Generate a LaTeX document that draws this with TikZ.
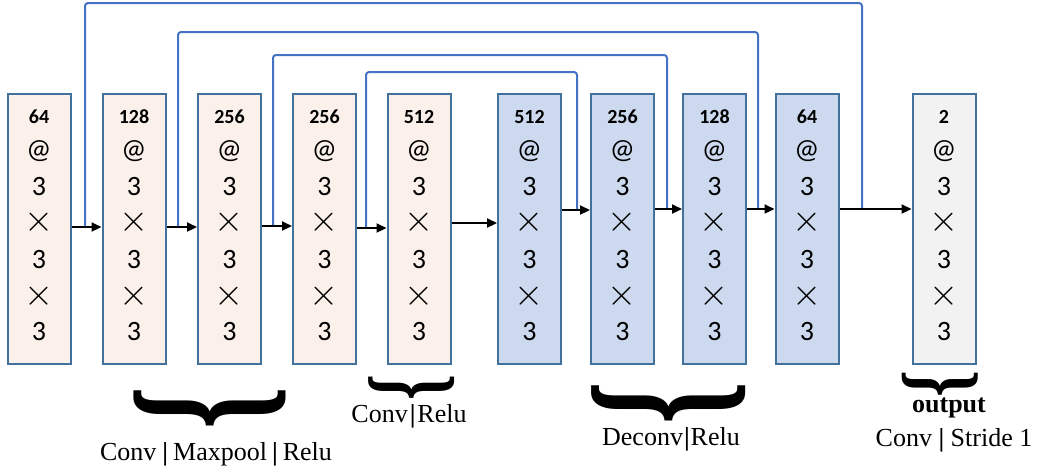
\documentclass[tikz,border=0pt]{standalone}
\usepackage{fontspec}
\usepackage{graphicx}
\setmainfont{Liberation Serif}
\newfontfamily\calfont{Carlito}
\usetikzlibrary{arrows.meta}
\definecolor{skipc}{HTML}{4472C4}
\definecolor{bord}{HTML}{41719C}
\definecolor{enc}{HTML}{FBF1EA}
\definecolor{dec}{HTML}{CCD9EE}
\definecolor{outc}{HTML}{F2F2F2}
\tikzset{
  layer/.style={draw=bord, line width=2pt, minimum width=63pt, minimum height=270pt, inner sep=0pt},
  numtxt/.style={font=\calfont\bfseries\fontsize{20}{20}\selectfont, inner sep=0pt},
  symtxt/.style={font=\calfont\fontsize{28}{28}\selectfont, inner sep=0pt},
  arr/.style={line width=2.2pt, -{Triangle[length=10pt,width=9pt]}},
  skipl/.style={draw=skipc, line width=2pt, rounded corners=3pt},
  lbl/.style={font=\fontsize{26}{26}\selectfont, inner sep=0pt},
  bracenode/.style={inner sep=0pt, anchor=north}
}
\newcommand\crosssym{\fontsize{20}{20}\selectfont\scalebox{1.8}{$\times$}}
\newcommand\layerbox[4]{%
  \node[layer, fill=#3] (#1) at (#2,229) {};
  \node[numtxt] (#1-n) at (#2,117) {#4};
  \node[symtxt] (#1-a) at (#2,151) {@};
  \node[symtxt] (#1-b) at (#2,187) {3};
  \node[symtxt] (#1-c) at (#2,222) {\crosssym};
  \node[symtxt] (#1-d) at (#2,260) {3};
  \node[symtxt] (#1-e) at (#2,296) {\crosssym};
  \node[symtxt] (#1-f) at (#2,332) {3};
}
\newcommand\bigbrace[3]{\resizebox*{#1}{#2}{\rotatebox{-90}{\fontsize{#3}{#3}\selectfont\bfseries\}}}}
\newcommand\vbar{\textbf{|}}
\begin{document}
\begin{tikzpicture}[x=1pt,y=-1pt]
\useasboundingbox (0,0) rectangle (1041,475);
% layers
\layerbox{b1}{39}{enc}{64}
\layerbox{b2}{134}{enc}{128}
\layerbox{b3}{229.5}{enc}{256}
\layerbox{b4}{324.5}{enc}{256}
\layerbox{b5}{419}{enc}{512}
\layerbox{b6}{529.5}{dec}{512}
\layerbox{b7}{622.5}{dec}{256}
\layerbox{b8}{714.5}{dec}{128}
\layerbox{b9}{807}{dec}{64}
\layerbox{b10}{944}{outc}{2}
% skip connection coordinates
\coordinate (s1) at (85,227);  \coordinate (t1) at (862,3);  \coordinate (e1) at (862,209);
\coordinate (s2) at (178,227); \coordinate (t2) at (758,32); \coordinate (e2) at (758,209);
\coordinate (s3) at (273,226); \coordinate (t3) at (667,55); \coordinate (e3) at (667,209);
\coordinate (s4) at (366,228); \coordinate (t4) at (577,72); \coordinate (e4) at (577,210);
\draw[skipl] (s1) |- (t1) -- (e1);
\draw[skipl] (s2) |- (t2) -- (e2);
\draw[skipl] (s3) |- (t3) -- (e3);
\draw[skipl] (s4) |- (t4) -- (e4);
% arrows
\draw[arr] (b1.east |- 0,227) -- (b2.west |- 0,227);
\draw[arr] (b2.east |- 0,227) -- (b3.west |- 0,227);
\draw[arr] (b3.east |- 0,226) -- (b4.west |- 0,226);
\draw[arr] (b4.east |- 0,228) -- (b5.west |- 0,228);
\draw[arr] (b5.east |- 0,223) -- (b6.west |- 0,223);
\draw[arr] (b6.east |- 0,210) -- (b7.west |- 0,210);
\draw[arr] (b7.east |- 0,209) -- (b8.west |- 0,209);
\draw[arr] (b8.east |- 0,209) -- (b9.west |- 0,209);
\draw[arr] (b9.east |- 0,209) -- (b10.west |- 0,209);
% braces
\node[bracenode] (br1) at (210,386) {\bigbrace{152pt}{43pt}{40}};
\node[bracenode] (br2) at (412,374) {\bigbrace{86pt}{26pt}{40}};
\node[bracenode] (br3) at (669,381) {\bigbrace{154pt}{43pt}{40}};
\node[bracenode] (br4) at (940,370) {\bigbrace{76pt}{27pt}{40}};
% labels
\node[lbl] (l1) at (216,454) {Conv\kern6pt\vbar\kern5pt Maxpool\kern5pt\vbar\kern5pt Relu};
\node[lbl] (l2) at (409,416) {Conv\kern2pt\vbar\kern2pt Relu};
\node[lbl] (l3) at (671,439) {Deconv\kern1pt\vbar\kern1pt Relu};
\node[lbl, font=\bfseries\fontsize{26}{26}\selectfont] (l4) at (949,408) {output};
\node[lbl] (l5) at (954,440) {Conv \vbar{} Stride 1};
\end{tikzpicture}
\end{document}
